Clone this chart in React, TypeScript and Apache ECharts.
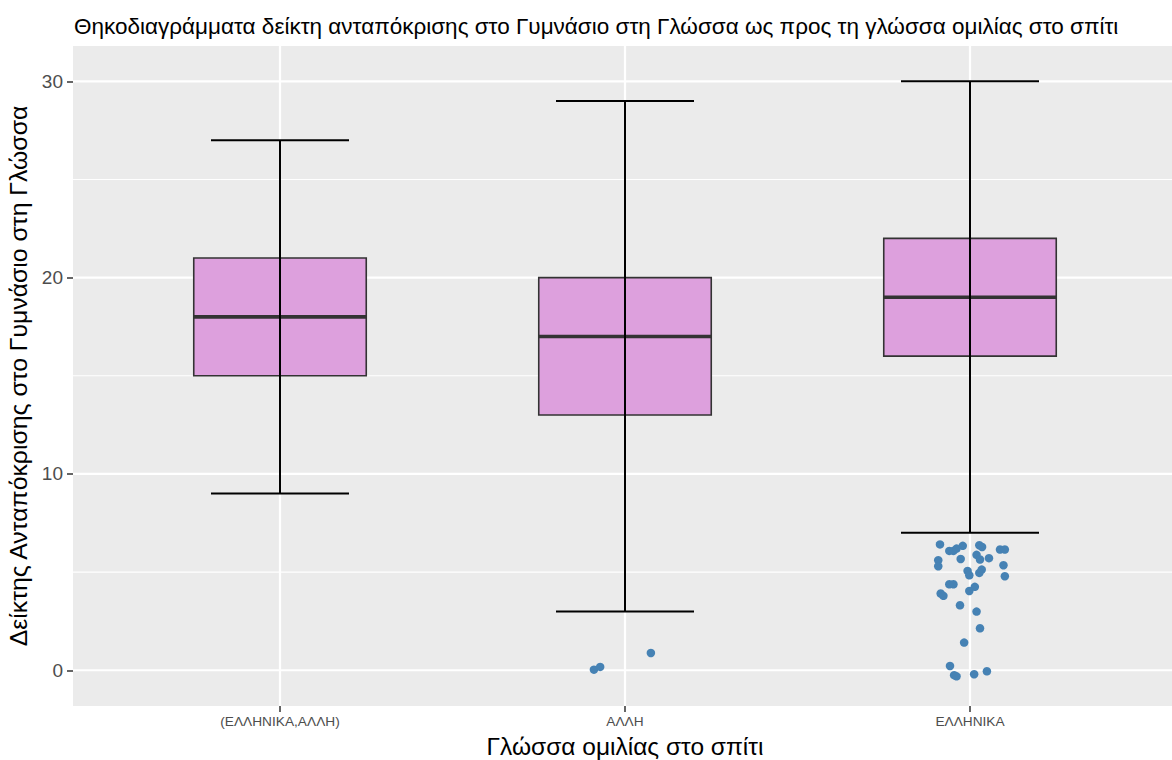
import React, { useEffect, useRef } from "react";
import * as echarts from "echarts";

// ---- data ----
const categories = ["(ΕΛΛΗΝΙΚΑ,ΑΛΛΗ)", "ΑΛΛΗ", "ΕΛΛΗΝΙΚΑ"];
const lowerWhisker = [9, 3, 7];
const q1 = [15, 13, 16];
const median = [18, 17, 19];
const q3 = [21, 20, 22];
const upperWhisker = [27, 29, 30];

// outliers (jittered horizontally, offset in category units)
const outlierAlliJitter = [-0.09, -0.072, 0.075];
const outlierAlliValues = [0.03, 0.17, 0.88];

const outlierEllJitter = [
  -0.087, -0.06, -0.048, -0.039, -0.021, -0.027, -0.092, -0.092, 0.027, 0.035,
  0.019, 0.029, 0.055, 0.087, 0.101, 0.097, 0.101, -0.007, -0.002, 0.034,
  0.027, -0.06, -0.048, -0.085, -0.077, 0.014, -0.002, -0.029, 0.019, 0.029,
  -0.017, -0.058, -0.046, -0.039, 0.012, 0.049,
];
const outlierEllValues = [
  6.41, 6.08, 6.08, 6.2, 6.34, 5.67, 5.61, 5.3, 6.37, 6.28,
  5.88, 5.64, 5.71, 6.15, 6.15, 5.35, 4.79, 5.06, 4.84, 5.13,
  4.96, 4.38, 4.38, 3.91, 3.79, 4.25, 4.04, 3.31, 2.99, 2.14,
  1.41, 0.22, -0.25, -0.31, -0.2, -0.05,
];

const yTicks = [0, 10, 20, 30];
const yMinorGrid = [5, 15, 25];

const titleText =
  "Θηκοδιαγράμματα δείκτη ανταπόκρισης στο Γυμνάσιο στη Γλώσσα ως προς τη γλώσσα ομιλίας στο σπίτι";
const xTitle = "Γλώσσα ομιλίας στο σπίτι";
const yTitle = "Δείκτης Ανταπόκρισης στο Γυμνάσιο στη Γλώσσα";

const FONT = "'Liberation Sans', Arial, sans-serif";
const BOX_HALF = 0.25;
const CAP_HALF = 0.2;

export default function App() {
  const ref = useRef<HTMLDivElement>(null);

  useEffect(() => {
    document.body.style.margin = "0";
    if (!ref.current) return;
    const chart = echarts.init(ref.current, null, { renderer: "svg" });

    const catIdx = categories.map((_, i) => i);
    const boxData = categories.map((_, i) => [
      i,
      lowerWhisker[i],
      q1[i],
      median[i],
      q3[i],
      upperWhisker[i],
    ]);
    const pointData: number[][] = [];
    outlierAlliValues.forEach((v, k) => pointData.push([1 + outlierAlliJitter[k], v]));
    outlierEllValues.forEach((v, k) => pointData.push([2 + outlierEllJitter[k], v]));

    // horizontal grid lines: [value, major?]
    const hGridData: number[][] = [
      ...yMinorGrid.map((v) => [v, 0]),
      ...yTicks.map((v) => [v, 1]),
    ];
    const vGridData: number[][] = catIdx.map((v) => [v]);

    const option: any = {
      animation: false,
      backgroundColor: "#FFFFFF",
      textStyle: { fontFamily: FONT },
      title: {
        text: titleText,
        left: 74,
        top: 15,
        padding: 0,
        textStyle: { fontFamily: FONT, fontSize: 22.5, fontWeight: "normal", color: "#000000" },
      },
      grid: {
        left: 73,
        top: 46,
        width: 1104,
        height: 660,
        show: true,
        backgroundColor: "#EBEBEB",
        borderWidth: 0,
        containLabel: false,
        outerBoundsMode: "none",
      },
      xAxis: {
        type: "value",
        min: -0.6,
        max: 2.6,
        name: xTitle,
        nameLocation: "middle",
        nameGap: 28,
        nameTextStyle: { fontFamily: FONT, fontSize: 24.5, color: "#000000" },
        axisLine: { show: false, onZero: false },
        splitLine: { show: false },
        axisTick: {
          show: true,
          customValues: catIdx,
          length: 6,
          lineStyle: { color: "#333333", width: 1.5 },
        },
        axisLabel: {
          customValues: catIdx,
          margin: 8,
          fontFamily: FONT,
          fontSize: 13.7,
          color: "#4D4D4D",
          formatter: (v: number) => categories[Math.round(v)] ?? "",
        },
      },
      yAxis: {
        type: "value",
        min: -1.82,
        max: 31.8,
        name: yTitle,
        nameLocation: "middle",
        nameGap: 40,
        nameTextStyle: { fontFamily: FONT, fontSize: 24.8, color: "#000000" },
        axisLine: { show: false, onZero: false },
        splitLine: { show: false },
        axisTick: {
          show: true,
          customValues: yTicks,
          length: 6,
          lineStyle: { color: "#333333", width: 1.5 },
        },
        axisLabel: {
          customValues: yTicks,
          margin: 10,
          fontFamily: FONT,
          fontSize: 19,
          color: "#4D4D4D",
        },
      },
      series: [
        {
          type: "custom",
          z: 1,
          silent: true,
          data: hGridData,
          encode: { y: 0 },
          renderItem: (params: any, api: any) => {
            const v = api.value(0);
            const major = api.value(1);
            const cs = params.coordSys;
            const p = api.coord([0, v]);
            return {
              type: "line",
              shape: { x1: cs.x, y1: p[1], x2: cs.x + cs.width, y2: p[1] },
              style: { stroke: "#FFFFFF", lineWidth: major ? 2.2 : 1.1 },
            };
          },
        },
        {
          type: "custom",
          z: 1,
          silent: true,
          data: vGridData,
          encode: { x: 0 },
          renderItem: (params: any, api: any) => {
            const v = api.value(0);
            const cs = params.coordSys;
            const p = api.coord([v, 0]);
            return {
              type: "line",
              shape: { x1: p[0], y1: cs.y, x2: p[0], y2: cs.y + cs.height },
              style: { stroke: "#FFFFFF", lineWidth: 2.2 },
            };
          },
        },
        {
          type: "custom",
          z: 2,
          data: boxData,
          encode: { x: 0, y: [1, 2, 3, 4, 5] },
          renderItem: (_params: any, api: any) => {
            const x = api.value(0);
            const lo = api.value(1);
            const a = api.value(2);
            const m = api.value(3);
            const b = api.value(4);
            const hi = api.value(5);
            const tl = api.coord([x - BOX_HALF, b]);
            const br = api.coord([x + BOX_HALF, a]);
            const mL = api.coord([x - BOX_HALF, m]);
            const mR = api.coord([x + BOX_HALF, m]);
            const loL = api.coord([x - CAP_HALF, lo]);
            const loR = api.coord([x + CAP_HALF, lo]);
            const hiL = api.coord([x - CAP_HALF, hi]);
            const hiR = api.coord([x + CAP_HALF, hi]);
            const cLo = api.coord([x, lo]);
            const cHi = api.coord([x, hi]);
            return {
              type: "group",
              children: [
                {
                  type: "rect",
                  shape: { x: tl[0], y: tl[1], width: br[0] - tl[0], height: br[1] - tl[1] },
                  style: { fill: "#DDA0DD", stroke: "#333333", lineWidth: 1.6 },
                },
                {
                  type: "line",
                  shape: { x1: mL[0], y1: mL[1], x2: mR[0], y2: mR[1] },
                  style: { stroke: "#333333", lineWidth: 3.6 },
                },
                {
                  type: "line",
                  shape: { x1: loL[0], y1: loL[1], x2: loR[0], y2: loR[1] },
                  style: { stroke: "#000000", lineWidth: 2 },
                },
                {
                  type: "line",
                  shape: { x1: hiL[0], y1: hiL[1], x2: hiR[0], y2: hiR[1] },
                  style: { stroke: "#000000", lineWidth: 2 },
                },
                {
                  type: "line",
                  shape: { x1: cLo[0], y1: cLo[1], x2: cHi[0], y2: cHi[1] },
                  style: { stroke: "#000000", lineWidth: 2 },
                },
              ],
            };
          },
        },
        {
          type: "scatter",
          z: 3,
          data: pointData,
          symbol: "circle",
          symbolSize: 8.5,
          itemStyle: { color: "#4682B4", opacity: 1 },
        },
      ],
    };

    chart.setOption(option);
    return () => chart.dispose();
  }, []);

  return <div ref={ref} style={{ width: 1172, height: 760 }} />;
}
